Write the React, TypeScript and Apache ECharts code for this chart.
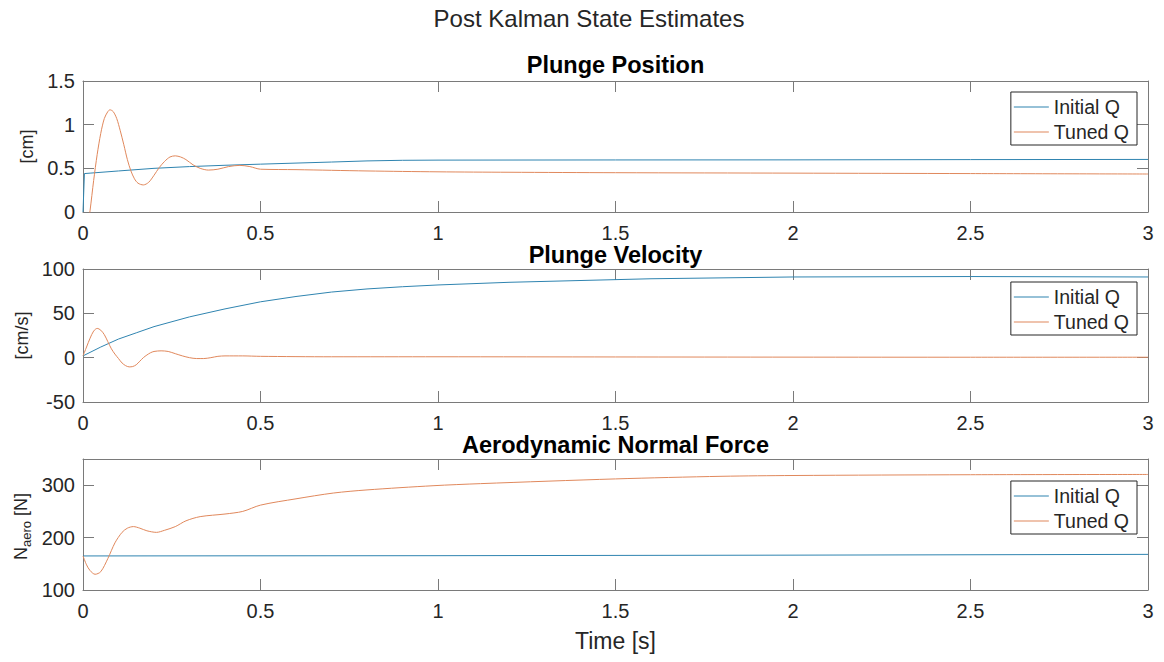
import React, { useEffect, useRef } from "react";
import * as echarts from "echarts";

// ---------- data ----------
const legendNames = ["Initial Q", "Tuned Q"];

// Plunge Position [cm]
const posInitT = [0, 0.004, 0.02, 0.1, 0.2, 0.3, 0.4, 0.5, 0.6, 0.7, 0.8, 0.9, 1.0, 1.2, 1.5, 2.0, 2.5, 3.0];
const posInitV = [0, 0.44, 0.445, 0.47, 0.5, 0.52, 0.535, 0.548, 0.56, 0.572, 0.585, 0.592, 0.594, 0.595, 0.596, 0.597, 0.6, 0.602];
const posTunedT = [0, 0.01, 0.02, 0.03, 0.04, 0.05, 0.06, 0.07, 0.076, 0.085, 0.095, 0.105, 0.115, 0.125, 0.135, 0.145, 0.155, 0.17, 0.185, 0.2, 0.215, 0.23, 0.245, 0.26, 0.275, 0.29, 0.31, 0.33, 0.353, 0.38, 0.41, 0.442, 0.47, 0.5, 0.6, 0.8, 1.0, 1.2, 1.5, 2.0, 2.5, 3.0];
const posTunedV = [-0.55, -0.28, 0.02, 0.36, 0.66, 0.9, 1.07, 1.15, 1.17, 1.15, 1.07, 0.93, 0.77, 0.6, 0.47, 0.38, 0.33, 0.31, 0.34, 0.42, 0.51, 0.58, 0.63, 0.643, 0.63, 0.6, 0.54, 0.5, 0.48, 0.49, 0.52, 0.534, 0.52, 0.49, 0.485, 0.47, 0.46, 0.455, 0.45, 0.445, 0.44, 0.435];

// Plunge Velocity [cm/s]
const velInitT = [0, 0.05, 0.1, 0.15, 0.2, 0.3, 0.4, 0.5, 0.6, 0.7, 0.8, 0.9, 1.0, 1.2, 1.4, 1.6, 1.8, 2.0, 2.5, 3.0];
const velInitV = [2, 12, 21, 28, 35, 46, 55, 63, 69, 74, 77.5, 80, 82, 85, 87, 89, 90, 91, 91.5, 91];
const velTunedT = [0, 0.01, 0.02, 0.03, 0.04, 0.05, 0.06, 0.07, 0.08, 0.09, 0.1, 0.11, 0.12, 0.13, 0.14, 0.15, 0.16, 0.17, 0.18, 0.19, 0.2, 0.22, 0.24, 0.26, 0.28, 0.3, 0.32, 0.34, 0.36, 0.38, 0.4, 0.45, 0.5, 0.7, 1.0, 1.5, 2.0, 2.5, 3.0];
const velTunedV = [2, 12, 22, 30, 33, 31, 26, 18, 10, 4, -1, -6, -9, -10.4, -10, -8, -4, 0, 3, 5.5, 7, 7.7, 7, 4.5, 2, 0, -1, -1, 0, 1.5, 2, 2, 1.5, 1, 1, 0.8, 0.6, 0.5, 0.5];

// Aerodynamic Normal Force [N]
const forceInitT = [0, 1, 2, 3];
const forceInitV = [165, 165.5, 166.5, 168];
const forceTunedT = [0, 0.01, 0.02, 0.034, 0.05, 0.07, 0.09, 0.11, 0.125, 0.142, 0.16, 0.18, 0.207, 0.23, 0.26, 0.29, 0.33, 0.4, 0.45, 0.5, 0.6, 0.705, 0.8, 0.986, 1.12, 1.5, 1.8, 2.0, 2.5, 3.0];
const forceTunedV = [165, 148, 137, 130, 135, 160, 190, 210, 218, 221, 218, 213, 210, 214, 221, 232, 240, 245, 250, 262, 274, 285, 291, 299, 303, 312, 317, 318.5, 320, 320.5];

// axis ranges
const xRange = { min: 0, max: 3, interval: 0.5 };
const yRanges = [
  { min: 0, max: 1.5, interval: 0.5 },
  { min: -50, max: 100, interval: 50 },
  { min: 100, max: 350, interval: 100 },
];
const subTitles = ["Plunge Position", "Plunge Velocity", "Aerodynamic Normal Force"];
const yNames = ["[cm]", "[cm/s]"];

// ---------- styling / layout ----------
const FONT = "'Liberation Sans', Arial, Helvetica, sans-serif";
const TXT = "#262626";
const AX = "#7a7a7a";
const BLUE = "#2f84b0";
const ORANGE = "#e0885c";
const gridTops = [81, 269, 459];
const gridHeights = [131, 133, 131];
const titleTops = [54, 244, 434];
const legendTops = [92, 282, 481];
const yNameGaps = [38, 45];

const zip = (t: number[], v: number[]) => t.map((x, i) => [x, v[i]]);

export default function App() {
  const ref = useRef<HTMLDivElement>(null);
  useEffect(() => {
    if (!ref.current) return;
    const chart = echarts.init(ref.current, null, { renderer: "svg" });

    const grids = gridTops.map((top, i) => ({ left: 83, right: 16, top, height: gridHeights[i], containLabel: false }));

    const xAxes: any[] = [];
    const yAxes: any[] = [];
    for (let g = 0; g < 3; g++) {
      for (const pos of ["bottom", "top"]) {
        xAxes.push({
          type: "value",
          gridIndex: g,
          position: pos,
          ...xRange,
          axisLine: { show: true, onZero: false, lineStyle: { color: AX, width: 1 } },
          axisTick: { show: true, inside: true, length: 11, lineStyle: { color: AX, width: 1 } },
          axisLabel: { show: pos === "bottom", margin: 11, fontSize: 20, lineHeight: 20, color: TXT, fontFamily: FONT },
          splitLine: { show: false },
          ...(g === 2 && pos === "bottom"
            ? {
                name: "Time [s]",
                nameLocation: "middle",
                nameGap: 39,
                nameTextStyle: { fontSize: 23, color: TXT, fontFamily: FONT },
              }
            : {}),
        });
      }
      for (const pos of ["left", "right"]) {
        const r = yRanges[g];
        yAxes.push({
          type: "value",
          gridIndex: g,
          position: pos,
          ...r,
          axisLine: { show: true, onZero: false, lineStyle: { color: AX, width: 1 } },
          axisTick: { show: true, inside: true, length: 11, lineStyle: { color: AX, width: 1 } },
          axisLabel: {
            show: pos === "left",
            margin: 8,
            fontSize: 20,
            color: TXT,
            fontFamily: FONT,
            formatter: (v: number) => {
              const k = (v - r.min) / r.interval;
              return Math.abs(k - Math.round(k)) > 1e-6 ? "" : String(v);
            },
          },
          splitLine: { show: false },
          ...(pos === "left" && g < 2
            ? {
                name: yNames[g],
                nameLocation: "middle",
                nameGap: yNameGaps[g],
                nameTextStyle: { fontSize: 18, color: TXT, fontFamily: FONT },
              }
            : {}),
        });
      }
    }

    const data = [
      [zip(posInitT, posInitV), zip(posTunedT, posTunedV)],
      [zip(velInitT, velInitV), zip(velTunedT, velTunedV)],
      [zip(forceInitT, forceInitV), zip(forceTunedT, forceTunedV)],
    ];
    const colors = [BLUE, ORANGE];
    const series: any[] = [];
    data.forEach((pair, g) => {
      pair.forEach((d, k) => {
        series.push({
          type: "line",
          name: legendNames[k],
          xAxisIndex: g * 2,
          yAxisIndex: g * 2,
          data: d,
          showSymbol: false,
          symbol: "none",
          smooth: k === 1 ? 0.3 : false,
          clip: true,
          color: colors[k],
          lineStyle: { color: colors[k], width: 1 },
          z: 2,
        });
      });
    });

    const option: any = {
      animation: false,
      backgroundColor: "#ffffff",
      textStyle: { fontFamily: FONT },
      title: [
        {
          text: "Post Kalman State Estimates",
          left: 589,
          top: 6,
          textAlign: "center",
          padding: 0,
          textStyle: { fontSize: 24, fontWeight: "normal", color: TXT, fontFamily: FONT, lineHeight: 24 },
        },
        ...subTitles.map((t, i) => ({
          text: t,
          left: 615.5,
          top: titleTops[i],
          textAlign: "center",
          padding: 0,
          textStyle: { fontSize: 23.5, fontWeight: "bold", color: "#000", fontFamily: FONT, lineHeight: 22 },
        })),
      ],
      legend: legendTops.map((top) => ({
        orient: "vertical",
        right: 27,
        top,
        data: legendNames,
        icon: "rect",
        itemWidth: 35,
        itemHeight: 1,
        itemGap: 5,
        padding: [5, 8, 3, 3],
        borderColor: TXT,
        borderWidth: 1,
        borderRadius: 0,
        backgroundColor: "#fff",
        selectedMode: false,
        textStyle: { fontSize: 19.5, color: TXT, fontFamily: FONT, lineHeight: 20 },
      })),
      grid: grids,
      xAxis: xAxes,
      yAxis: yAxes,
      series,
      graphic: [
        {
          type: "group",
          x: 21,
          y: 525,
          rotation: Math.PI / 2,
          children: [
            { type: "text", x: -35, y: 0, style: { text: "N", fontSize: 18, fill: TXT, fontFamily: FONT, verticalAlign: "middle" } },
            { type: "text", x: -22, y: 5, style: { text: "aero", fontSize: 13, fill: TXT, fontFamily: FONT, verticalAlign: "middle" } },
            { type: "text", x: 4, y: 0, style: { text: " [N]", fontSize: 18, fill: TXT, fontFamily: FONT, verticalAlign: "middle" } },
          ],
        },
      ],
    };
    chart.setOption(option);
    return () => chart.dispose();
  }, []);
  return <div ref={ref} style={{ position: "fixed", left: 0, top: 0, width: 1164, height: 662 }} />;
}
